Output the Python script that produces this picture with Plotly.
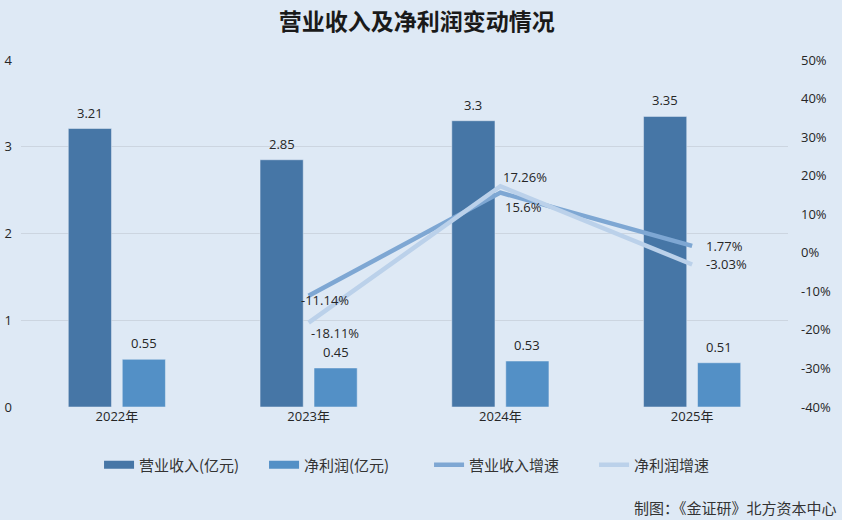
import plotly.graph_objects as go

# ---- data ----
years = ["2022年", "2023年", "2024年", "2025年"]
revenue = [3.21, 2.85, 3.3, 3.35]          # 营业收入(亿元)
net_profit = [0.55, 0.45, 0.53, 0.51]      # 净利润(亿元)
revenue_growth = [None, -11.14, 15.6, 1.77]     # 营业收入增速 (%)
profit_growth = [None, -18.11, 17.26, -3.03]    # 净利润增速 (%)
revenue_growth_labels = [None, "-11.14%", "15.6%", "1.77%"]
profit_growth_labels = [None, "-18.11%", "17.26%", "-3.03%"]
left_ticks = [0, 1, 2, 3, 4]
right_ticks = [-40, -30, -20, -10, 0, 10, 20, 30, 40, 50]

# ---- styles ----
FONT = "Open Sans, Noto Sans CJK SC, sans-serif"
BG = "#DEE9F5"
C_REV = "#4676A6"
C_NP = "#5390C6"
C_REVG = "#7EA7D3"
C_NPG = "#BBD1EA"
TXT = "#262626"

fig = go.Figure()

fig.add_trace(go.Bar(x=years, y=revenue, name="营业收入(亿元)", marker_color=C_REV,
                     showlegend=False, yaxis="y"))
fig.add_trace(go.Bar(x=years, y=net_profit, name="净利润(亿元)", marker_color=C_NP,
                     showlegend=False, yaxis="y"))
fig.add_trace(go.Scatter(x=years, y=revenue_growth, name="营业收入增速", mode="lines",
                         line=dict(color=C_REVG, width=4.5), yaxis="y2", showlegend=False))
fig.add_trace(go.Scatter(x=years, y=profit_growth, name="净利润增速", mode="lines",
                         line=dict(color=C_NPG, width=4.5), yaxis="y2", showlegend=False))

# legend entries (wide swatches like the reference)
for name, col, w in [("营业收入(亿元)", C_REV, 8), ("净利润(亿元)", C_NP, 8),
                     ("营业收入增速", C_REVG, 4.5), ("净利润增速", C_NPG, 4.5)]:
    fig.add_trace(go.Scatter(x=[None], y=[None], mode="lines", name=name,
                             line=dict(color=col, width=w), yaxis="y"))

annotations = []
# bar value labels
for x, v in zip(years, revenue):
    annotations.append(dict(x=x, y=v, xref="x", yref="y", text=f"{v:g}", showarrow=False,
                            xshift=-27, yshift=16, yanchor="middle",
                            font=dict(size=13, color=TXT, family=FONT)))
for x, v in zip(years, net_profit):
    annotations.append(dict(x=x, y=v, xref="x", yref="y", text=f"{v:g}", showarrow=False,
                            xshift=27, yshift=16, yanchor="middle",
                            font=dict(size=13, color=TXT, family=FONT)))

# growth labels
rev_shift = [None, (-10, -4), (3, -14), (12, 0)]
np_shift = [None, (0, -10), (1, 9), (12, 0)]
for x, v, t, s in zip(years, revenue_growth, revenue_growth_labels, rev_shift):
    if v is None:
        continue
    annotations.append(dict(x=x, y=v, xref="x", yref="y2", text=t, showarrow=False,
                            xanchor="left", yanchor="middle", xshift=s[0], yshift=s[1],
                            font=dict(size=13, color=TXT, family=FONT)))
for x, v, t, s in zip(years, profit_growth, profit_growth_labels, np_shift):
    if v is None:
        continue
    annotations.append(dict(x=x, y=v, xref="x", yref="y2", text=t, showarrow=False,
                            xanchor="left", yanchor="middle", xshift=s[0], yshift=s[1],
                            font=dict(size=13, color=TXT, family=FONT)))

annotations.append(dict(x=1.066, y=-0.291, xref="paper", yref="paper", xanchor="right",
                        yanchor="middle", text="制图：《金证研》北方资本中心", showarrow=False,
                        font=dict(size=15, color="#333333", family="Noto Sans CJK SC")))

fig.update_layout(
    width=842, height=520,
    paper_bgcolor=BG, plot_bgcolor=BG,
    margin=dict(l=21, r=54, t=60, b=113, autoexpand=False),
    barmode="group", bargap=0.437, bargroupgap=0.2,
    title=dict(text="<b>营业收入及净利润变动情况</b>", x=0.516, xref="paper", xanchor="center",
               y=1 - 22 / 520, yanchor="middle",
               font=dict(size=23, color="#1a1a1a", family="Noto Sans CJK SC")),
    font=dict(family=FONT, color=TXT, size=13),
    xaxis=dict(type="category", showgrid=False, showline=False, ticks="", automargin=False,
               tickfont=dict(size=13, color=TXT, family=FONT)),
    yaxis=dict(range=[0, 4], tickvals=left_ticks, showgrid=True, gridcolor="#CCD5E0",
               gridwidth=1, zeroline=False, showline=False, ticks="", ticklabelstandoff=8,
               automargin=False, tickfont=dict(size=13, color=TXT)),
    yaxis2=dict(range=[-40, 50], tickvals=right_ticks, ticktext=[f"{t}%" for t in right_ticks],
                overlaying="y", side="right", showgrid=False, zeroline=False, showline=False,
                ticks="", ticklabelstandoff=12, automargin=False,
                tickfont=dict(size=13, color=TXT)),
    legend=dict(orientation="h", x=0.532, xanchor="center", y=-0.167, yanchor="middle",
                bgcolor="rgba(0,0,0,0)", entrywidth=120, itemwidth=30,
                font=dict(size=15, color="#333333", family="Noto Sans CJK SC")),
    annotations=annotations,
    showlegend=True,
)

fig.write_html("out.html")
